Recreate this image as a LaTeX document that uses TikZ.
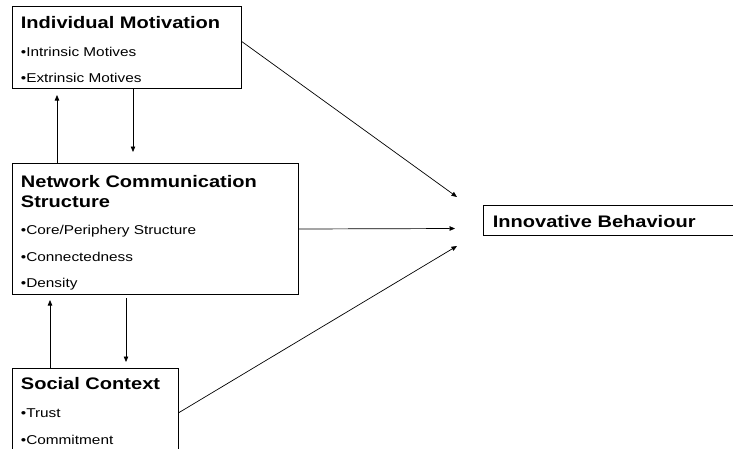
\documentclass[tikz,border=0pt]{standalone}
\usepackage{fontspec}
\setmainfont{Liberation Sans}[FakeStretch=1.2]
\usetikzlibrary{arrows.meta,calc}
\begin{document}
\begin{tikzpicture}[x=1pt,y=-1pt,
  box/.style={draw=black, line width=1pt, rectangle, inner sep=0pt, anchor=north west},
  ttl/.style={anchor=base west, inner sep=0pt, font=\fontsize{16.7}{20}\selectfont\bfseries},
  itm/.style={anchor=base west, inner sep=0pt, font=\fontsize{12.8}{15}\selectfont},
  arr/.style={line width=0.7pt, -{Triangle[length=5.5pt,width=4.5pt]}}]
\useasboundingbox (0,0) rectangle (733,448);
% boxes
\node[box, minimum width=229pt, minimum height=82pt] (im) at (12,6) {};
\node[box, minimum width=286pt, minimum height=131pt] (ncs) at (12,163) {};
\node[box, minimum width=166pt, minimum height=86pt] (sc) at (12,368) {};
\node[box, minimum width=249.5pt, minimum height=30pt] (ib) at (483,205) {};
% texts
\node[ttl] (imt) at (20.7,28) {Individual Motivation};
\node[itm] (im1) at (20.7,56) {•Intrinsic Motives};
\node[itm] (im2) at (20.7,82) {•Extrinsic Motives};
\node[ttl] (ncst1) at (20.7,187) {Network Communication};
\node[ttl] (ncst2) at (20.7,207.5) {Structure};
\node[itm] (ncs1) at (20.7,234.5) {•Core/Periphery Structure};
\node[itm] (ncs2) at (20.7,261) {•Connectedness};
\node[itm] (ncs3) at (20.7,287) {•Density};
\node[ttl] (sct) at (20.7,389.5) {Social Context};
\node[itm] (sc1) at (20.7,417) {•Trust};
\node[itm] (sc2) at (20.7,444) {•Commitment};
\node[ttl] (ibt) at (492.7,227.5) {Innovative Behaviour};
% arrow targets
\coordinate (t1) at (457,197);
\coordinate (t2) at (455,228.5);
\coordinate (t3) at (457,246);
% connectors
\draw[arr] ($(im.north east)!0.43!(im.south east)$) -- (t1);
\draw[arr] (ncs.east) -- (t2);
\draw[arr] ($(sc.north east)!0.512!(sc.south east)$) -- (t3);
\draw[arr] ($(ncs.north west)+(45,0)$) -- ($(im.south west)+(45,6)$);
\draw[arr] ($(im.south west)+(121,0)$) -- ($(ncs.north west)+(121,-11)$);
\draw[arr] ($(sc.north west)+(38,0)$) -- ($(ncs.south west)+(38,5)$);
\draw[arr] ($(ncs.south west)+(114,3)$) -- ($(sc.north west)+(114,-6)$);
\end{tikzpicture}
\end{document}
